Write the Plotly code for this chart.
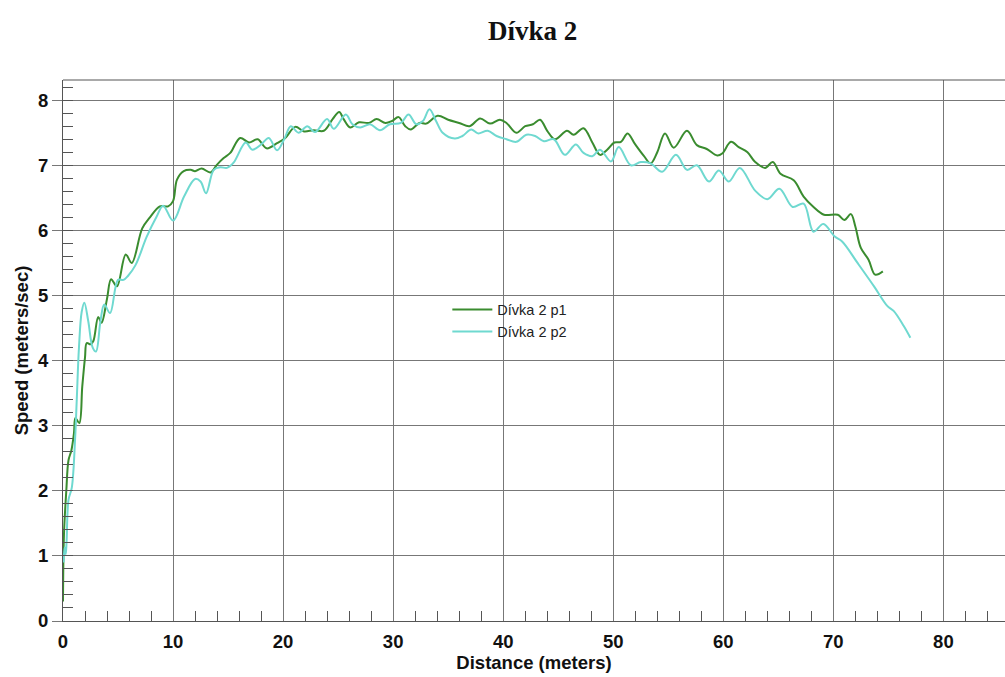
import plotly.graph_objects as go

# Dívka 2 p1 (green)
p1_x = [0.0, 0.09, 0.3, 0.5, 0.76, 1.0, 1.13, 1.48, 1.75, 2.0, 2.16, 2.5, 2.76, 3.2, 3.5, 4.0, 4.37, 4.9,
        5.7, 6.25, 7.2, 7.9, 8.8, 9.55, 10.0, 10.36, 10.97, 11.6, 12.0, 12.6, 13.4, 14.0, 14.6, 15.2, 16.1,
        16.9, 17.7, 18.5, 19.45, 20.2, 21.1, 21.9, 22.8, 23.7, 24.5, 25.1, 25.5, 26.1, 26.9, 27.8, 28.5,
        29.3, 29.9, 30.5, 31.1, 31.6, 32.4, 33.0, 34.05, 35.0, 36.0, 36.95, 37.9, 38.8, 39.7, 40.3, 41.2,
        42.0, 42.7, 43.35, 44.0, 44.7, 45.8, 46.4, 47.3, 48.1, 48.8, 49.45, 50.1, 50.7, 51.3, 52.0, 52.8,
        53.4, 54.0, 54.7, 55.5, 56.7, 57.6, 58.5, 59.45, 59.9, 60.7, 61.4, 62.2, 62.9, 63.8, 64.5, 65.2,
        66.4, 67.3, 68.2, 69.15, 70.4, 71.0, 71.6, 72.0, 72.5, 73.2, 73.8, 74.5]
p1_y = [0.3, 1.34, 2.0, 2.47, 2.62, 2.89, 3.12, 3.04, 3.6, 4.05, 4.27, 4.25, 4.3, 4.67, 4.58, 4.95, 5.25, 5.14,
        5.63, 5.5, 6.03, 6.2, 6.37, 6.37, 6.45, 6.78, 6.91, 6.93, 6.91, 6.95, 6.89, 7.01, 7.11, 7.19, 7.42,
        7.35, 7.40, 7.26, 7.34, 7.42, 7.59, 7.52, 7.54, 7.53, 7.71, 7.82, 7.71, 7.58, 7.66, 7.65, 7.71,
        7.65, 7.68, 7.74, 7.60, 7.55, 7.65, 7.64, 7.76, 7.70, 7.65, 7.60, 7.72, 7.64, 7.70, 7.65, 7.50,
        7.60, 7.63, 7.70, 7.53, 7.40, 7.53, 7.47, 7.57, 7.35, 7.16, 7.24, 7.35, 7.36, 7.49, 7.32, 7.14,
        7.03, 7.20, 7.49, 7.27, 7.53, 7.31, 7.25, 7.15, 7.18, 7.36, 7.28, 7.20, 7.05, 6.96, 7.05, 6.87,
        6.77, 6.52, 6.36, 6.24, 6.24, 6.16, 6.25, 6.06, 5.73, 5.55, 5.32, 5.37]

# Dívka 2 p2 (turquoise)
p2_x = [0.05, 0.15, 0.25, 0.33, 0.5, 0.8, 1.1, 1.25, 1.45, 1.7, 1.94, 2.3, 2.7, 3.0, 3.4, 3.75, 4.28, 5.0,
        5.5, 5.9, 6.6, 7.6, 8.5, 9.1, 10.0, 11.0, 12.0, 12.5, 13.0, 13.7, 14.3, 14.9, 15.5, 16.6, 17.2,
        18.0, 18.7, 19.45, 20.1, 20.7, 21.4, 22.2, 22.9, 24.0, 24.6, 25.7, 26.3, 27.0, 27.9, 28.8, 29.7,
        30.7, 31.4, 32.1, 32.7, 33.3, 33.9, 34.5, 35.6, 36.3, 37.1, 37.7, 38.6, 39.4, 40.3, 41.2, 42.1,
        42.9, 43.7, 44.6, 45.6, 46.6, 47.3, 48.1, 48.8, 49.8, 50.5, 51.6, 52.5, 53.4, 54.45, 55.7, 56.7,
        57.6, 58.7, 59.6, 60.5, 61.5, 62.9, 64.0, 65.1, 66.3, 67.3, 68.2, 69.1, 70.1, 70.8, 72.2, 73.7,
        74.9, 75.5, 76.4, 77.0]
p2_y = [0.9, 1.13, 1.03, 1.24, 1.86, 2.05, 2.8, 3.4, 4.2, 4.75, 4.89, 4.6, 4.2, 4.14, 4.6, 4.86, 4.73, 5.24,
        5.24, 5.3, 5.47, 5.9, 6.21, 6.38, 6.15, 6.52, 6.79, 6.75, 6.57, 6.93, 6.97, 6.96, 7.04, 7.35, 7.24,
        7.32, 7.42, 7.23, 7.40, 7.60, 7.50, 7.60, 7.51, 7.71, 7.56, 7.78, 7.63, 7.58, 7.63, 7.54, 7.63,
        7.65, 7.78, 7.63, 7.68, 7.86, 7.68, 7.50, 7.41, 7.45, 7.55, 7.49, 7.53, 7.45, 7.40, 7.36, 7.47,
        7.45, 7.37, 7.40, 7.16, 7.32, 7.19, 7.14, 7.24, 7.06, 7.28, 7.0, 7.05, 7.03, 6.90, 7.16, 6.93,
        7.0, 6.75, 6.92, 6.75, 6.96, 6.61, 6.48, 6.64, 6.36, 6.41, 5.98, 6.10, 5.91, 5.83, 5.50, 5.14,
        4.84, 4.76, 4.53, 4.35]

title_text = "Dívka 2"
x_title = "Distance (meters)"
y_title = "Speed (meters/sec)"

fig = go.Figure()
fig.add_trace(go.Scatter(x=p1_x, y=p1_y, mode="lines", name="Dívka 2 p1",
                         line=dict(color="#3a8c2f", width=2, shape="spline", smoothing=1.0)))
fig.add_trace(go.Scatter(x=p2_x, y=p2_y, mode="lines", name="Dívka 2 p2",
                         line=dict(color="#6fd9d0", width=2, shape="spline", smoothing=1.0)))

tickfont = dict(family="Arial, Liberation Sans, sans-serif", size=18.5, color="#111", weight="bold")
titlefont = dict(family="Arial, Liberation Sans, sans-serif", size=18.5, color="#111", weight="bold")

fig.update_layout(
    width=1005, height=677,
    paper_bgcolor="white", plot_bgcolor="white",
    margin=dict(l=63, r=0, t=80, b=56),
    title=dict(text=title_text, x=0.53, xanchor="center", y=0.955, yanchor="middle",
               font=dict(family="Times New Roman, Liberation Serif, serif", size=27, color="#111", weight="bold")),
    showlegend=True,
    legend=dict(x=0.408, y=0.605, xanchor="left", yanchor="top", bgcolor="rgba(0,0,0,0)",
                font=dict(family="Arial, Liberation Sans, sans-serif", size=14.5, color="#222"),
                tracegroupgap=0, itemwidth=40),
    xaxis=dict(range=[0, 85.6], dtick=10, tick0=0, showgrid=True, gridcolor="#777", gridwidth=1,
               zeroline=False, showline=True, linecolor="#555", linewidth=1, mirror=False,
               ticks="", tickfont=tickfont, ticklabelstandoff=4,
               title=dict(text=x_title, font=titlefont, standoff=4),
               minor=dict(dtick=2, ticks="inside", ticklen=10, tickcolor="#555", showgrid=False)),
    yaxis=dict(range=[0, 8.31], dtick=1, tick0=0, showgrid=True, gridcolor="#777", gridwidth=1,
               zeroline=False, showline=True, linecolor="#555", linewidth=1,
               ticks="outside", ticklen=10, tickcolor="#777", tickfont=tickfont,
               title=dict(text=y_title, font=titlefont, standoff=4),
               minor=dict(dtick=0.2, ticks="inside", ticklen=10, tickcolor="#555", showgrid=False)),
)
# top frame line
fig.add_shape(type="line", xref="paper", yref="paper", x0=0, x1=1, y0=1, y1=1,
              line=dict(color="#555", width=1))

fig.write_html("out.html")
